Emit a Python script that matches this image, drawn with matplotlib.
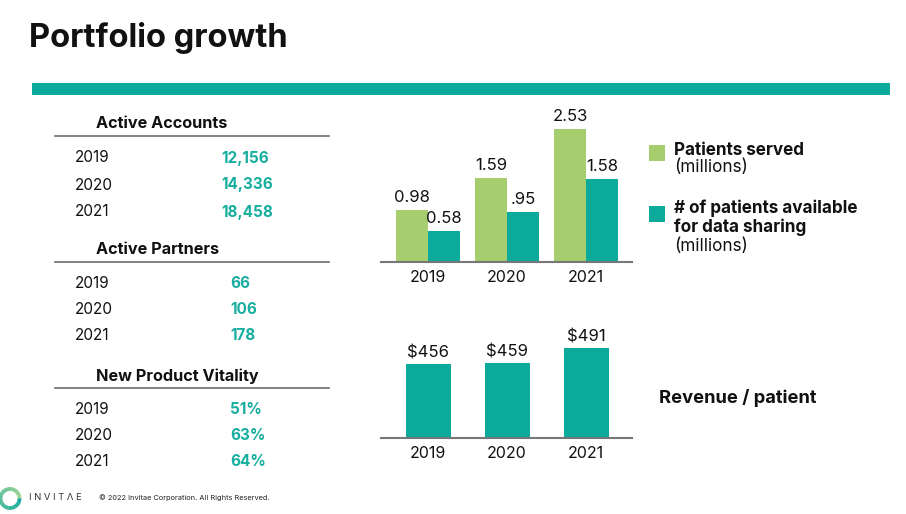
import numpy as np
import matplotlib.pyplot as plt
from matplotlib.patches import Rectangle, Wedge

plt.rcParams['font.family'] = ['Inter', 'DejaVu Sans']

# data
years = ['2019', '2020', '2021']
active_accounts = [12156, 14336, 18458]
active_partners = [66, 106, 178]
product_vitality = [51, 63, 64]
patients_served = [0.98, 1.59, 2.53]
patients_sharing = [0.58, 0.95, 1.58]
sharing_labels = ['0.58', '.95', '1.58']
revenue_per_patient = [456, 459, 491]

GREEN = '#A6CE6F'
TEAL = '#0BAA9B'
TEAL_TXT = '#18AE9F'
DARK = '#111111'

W, H = 906, 514
fig = plt.figure(figsize=(W / 100, H / 100), dpi=100)


def fx(x):
    return x / W


def fy(y):
    return 1 - y / H


def box(x0, y0, x1, y1):
    # pixel box (top-left origin) -> figure fraction rect
    return [fx(x0), fy(y1), fx(x1 - x0), (y1 - y0) / H]


# title and band
fig.text(fx(29), fy(38), 'Portfolio growth', fontsize=23.5, fontweight='bold',
         color=DARK, va='center', ha='left')
fig.patches.append(Rectangle((fx(32), fy(95)), fx(858), 12 / H,
                             transform=fig.transFigure, color=TEAL, lw=0))

# left-hand tables
tables = [
    ('Active Accounts', active_accounts, '{:,}', 124, 221),
    ('Active Partners', active_partners, '{}', 250, 230),
    ('New Product Vitality', product_vitality, '{}%', 376, 230),
]
for title, vals, fmt, ty, vx in tables:
    fig.text(fx(96), fy(ty), title, fontsize=11.7, fontweight='bold',
             color=DARK, va='center')
    fig.add_artist(plt.Line2D([fx(55), fx(329)], [fy(ty + 12), fy(ty + 12)],
                              color='#777777', lw=1.3))
    off = [34, 61, 88] if ty == 124 else [33, 59, 85]
    for yr, v, dy in zip(years, vals, off):
        fig.text(fx(75), fy(ty + dy), yr, fontsize=11, color=DARK, va='center')
        fig.text(fx(vx), fy(ty + dy), fmt.format(v), fontsize=11,
                 fontweight='bold', color=TEAL_TXT, va='center')

# patients chart
ax1 = fig.add_axes(box(381, 100, 632, 262))
x = np.arange(len(years))
bw = 0.405
b1 = ax1.bar(x - bw / 2, patients_served, bw, color=GREEN)
b2 = ax1.bar(x + bw / 2, patients_sharing, bw, color=TEAL)
for r, v in zip(b1, patients_served):
    ax1.text(r.get_x() + r.get_width() / 2, v + 0.1, f'{v:.2f}',
             ha='center', va='bottom', fontsize=12, color=DARK)
for r, s, v in zip(b2, sharing_labels, patients_sharing):
    ax1.text(r.get_x() + r.get_width() / 2, v + 0.1, s,
             ha='center', va='bottom', fontsize=12, color=DARK)
ax1.set_xlim(-0.595, 2.58)
ax1.set_ylim(0, 162 / 52.6)

# revenue chart
ax2 = fig.add_axes(box(381, 320, 632, 438))
ax2.bar(x, revenue_per_patient, 0.57, color=TEAL)
for xi, v in zip(x, revenue_per_patient):
    ax2.text(xi, v + 8, f'${v}', ha='center', va='bottom', fontsize=12,
             color=DARK)
ax2.set_xlim(-0.595, 2.58)
ax2.set_ylim(300, 300 + 118 / 0.472)

for ax in (ax1, ax2):
    ax.set_xticks(x)
    ax.set_xticklabels(years, fontsize=11.5, color=DARK)
    ax.tick_params(axis='x', length=0, pad=6)
    ax.set_yticks([])
    for s in ('top', 'right', 'left'):
        ax.spines[s].set_visible(False)
    ax.spines['bottom'].set_color('#777777')
    ax.spines['bottom'].set_linewidth(1.5)
    ax.patch.set_alpha(0)

# legend
fig.patches.append(Rectangle((fx(649), fy(161)), fx(16), 16 / H,
                             transform=fig.transFigure, color=GREEN, lw=0))
fig.patches.append(Rectangle((fx(649), fy(222)), fx(16), 16 / H,
                             transform=fig.transFigure, color=TEAL, lw=0))
fig.text(fx(674), fy(150), 'Patients served', fontsize=12.3, fontweight='bold',
         color=DARK, va='center')
fig.text(fx(674), fy(168), '(millions)', fontsize=12.3, color=DARK, va='center')
fig.text(fx(674), fy(208), '# of patients available', fontsize=12.3,
         fontweight='bold', color=DARK, va='center')
fig.text(fx(674), fy(227), 'for data sharing', fontsize=12.3,
         fontweight='bold', color=DARK, va='center')
fig.text(fx(674), fy(246), '(millions)', fontsize=12.3, color=DARK, va='center')

fig.text(fx(659), fy(398), 'Revenue / patient', fontsize=13.2,
         fontweight='bold', color=DARK, va='center')

# footer logo + text
logo = fig.add_axes(box(-2, 486, 22, 511))
logo.set_xlim(-1, 1)
logo.set_ylim(-1, 1)
logo.set_aspect('equal')
logo.axis('off')
ring = np.linspace(0, 360, 37)
for i in range(36):
    t = i / 35
    col = (0.60 * (1 - t) + 0.05 * t, 0.82 * (1 - t) + 0.66 * t,
           0.55 * (1 - t) + 0.62 * t)
    logo.add_patch(Wedge((0, 0), 0.95, ring[i], ring[i + 1] + 0.5,
                         width=0.32, color=col, lw=0))
fig.text(fx(29), fy(498), 'I N V I T Λ E', fontsize=6.8, color='#333333',
         va='center')
fig.text(fx(99), fy(498), '© 2022 Invitae Corporation. All Rights Reserved.',
         fontsize=5.3, color='#222222', va='center')

fig.savefig('out.png', dpi=100, facecolor='white')
